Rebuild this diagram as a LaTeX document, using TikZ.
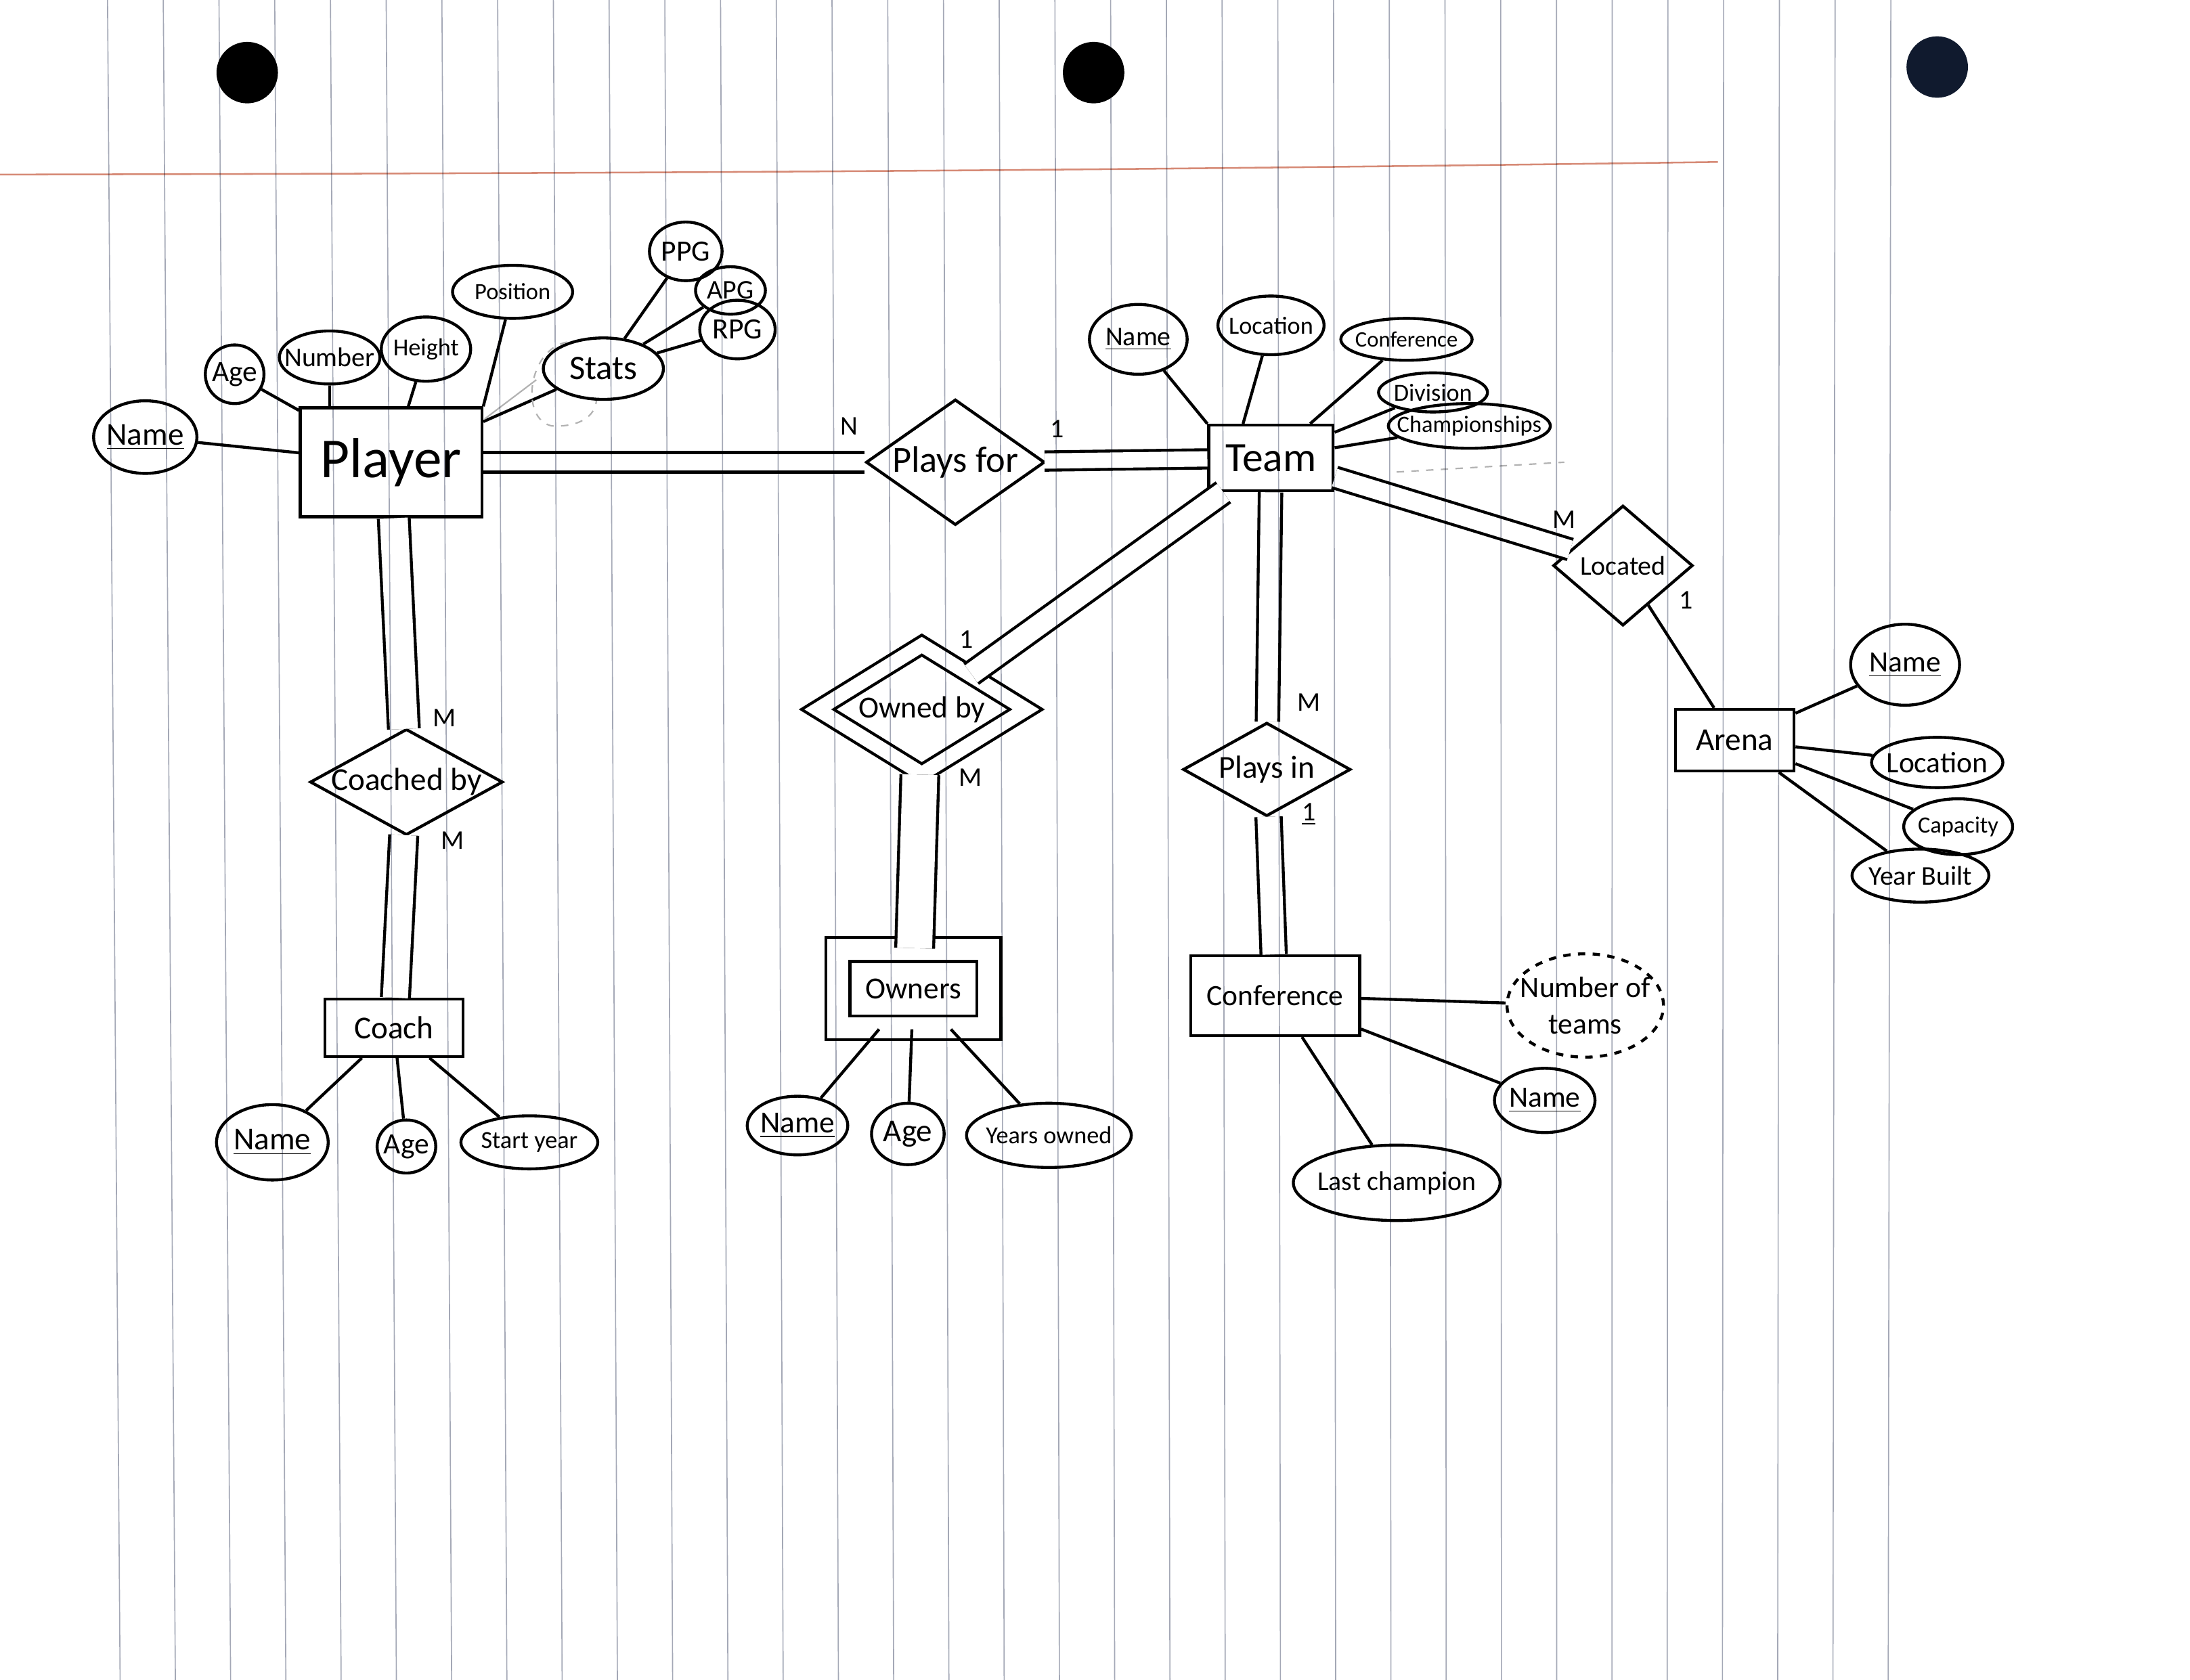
\documentclass[tikz,border=0pt]{standalone}
\usepackage{fontspec}
\setmainfont{Carlito}
\usepackage{xcolor}
\usetikzlibrary{shapes.geometric}

\definecolor{rulecol}{RGB}{164,168,182}
\definecolor{margincol}{RGB}{214,138,118}
\definecolor{holenavy}{RGB}{16,26,46}

\begin{document}
\begin{tikzpicture}[x=0.2mm, y=-0.2mm,
    ink/.style={line width=1.2pt, black},
    ent/.style={ink, draw, rectangle, inner sep=0pt},
    rel/.style={ink, draw, diamond, inner xsep=-40mm, inner ysep=-1mm},
    attr/.style={ink, draw, ellipse, inner xsep=-40mm, inner ysep=-1mm},
    dbl/.style={ink, double, double distance=#1},
    sz/.style 2 args={minimum width=#1mm, minimum height=#2mm},
    fs/.style={font=\fontsize{#1}{#1}\selectfont},
    card/.style={font=\fontsize{11}{13}\selectfont},
    faint/.style={black!30, line width=0.6pt, dashed}]

    \useasboundingbox (0,0) rectangle (1568,1203);
    \fill[white] (0,0) rectangle (1568,1203);

    \fill[black] (177,52) circle (22);
    \fill[black] (783,52) circle (22);
    \fill[holenavy] (1387,48) circle (22);

    % entities
    \node[ent, sz={26}{15.6}, fs=23] (pl) at (280,331) {Player};
    \node[ent, sz={17.8}{9.4}, fs=17] (tm) at (910,328) {Team};
    \node[ent, sz={17}{8.8}, fs=13] (ar) at (1242,530) {Arena};
    \node[ent, sz={24.2}{11.4}, fs=12] (cf) at (913,713) {Conference};
    \node[ent, sz={19.8}{8.2}, fs=13] (co) at (282,736) {Coach};
    \node[ent, double, double distance=3mm, sz={21.6}{11.2}, fs=12.5] (ow) at (654,708) {Owners};

    % relationships
    \node[rel, sz={25.6}{18}, fs=15] (pf) at (684,331) {Plays for};
    \node[rel, sz={20}{17.2}, fs=11] (lc) at (1162,405) {Located};
    \node[rel, double, double distance=2mm, sz={30}{18.6}, fs=12.5] (ob) at (660,508) {Owned by};
    \node[rel, sz={24}{13.4}, fs=13] (pi) at (907,551) {Plays in};
    \node[rel, sz={27.6}{15.2}, fs=13] (cb) at (291,560) {Coached by};

    % player attributes
    \node[attr, sz={14.8}{10.4}, fs=13] (plName) at (104,313) {\underline{Name}};
    \node[attr, sz={8.4}{8.4}, fs=12] (plAge) at (168,268) {Age};
    \node[attr, sz={14.4}{7.6}, fs=11] (plNum) at (236,256) {Number};
    \node[attr, sz={12.8}{9.2}, fs=10] (plHt) at (305,250) {Height};
    \node[attr, sz={17.2}{7.6}, fs=9.5] (plPos) at (367,209) {Position};
    \node[attr, sz={17.2}{8.8}, fs=14] (st) at (432,264) {Stats};
    \node[attr, sz={10.4}{8.4}, fs=12] (ppg) at (491,180) {PPG};
    \node[attr, sz={10}{6.8}, fs=11] (apg) at (523,208) {APG};
    \node[attr, sz={10.8}{8.4}, fs=12] (rpg) at (528,236) {RPG};

    % team attributes
    \node[attr, sz={14}{10}, fs=11] (tmName) at (815,243) {\underline{Name}};
    \node[attr, sz={15.2}{8.4}, fs=10] (tmLoc) at (910,233) {Location};
    \node[attr, sz={18.8}{6}, fs=9] (tmConf) at (1007,243) {Conference};
    \node[attr, sz={15.6}{5.6}, fs=10] (tmDiv) at (1026,281) {Division};
    \node[attr, sz={23.2}{6.4}, fs=9.5] (tmChamp) at (1052,305) {Championships};

    % arena attributes
    \node[attr, sz={15.6}{11.6}, fs=12] (arName) at (1364,476) {\underline{Name}};
    \node[attr, sz={18.8}{7.2}, fs=12] (arLoc) at (1387,546) {Location};
    \node[attr, sz={15.6}{8}, fs=9.5] (arCap) at (1402,592) {Capacity};
    \node[attr, sz={19.6}{7.6}, fs=11] (arYear) at (1375,627) {Year Built};

    % conference attributes
    \node[attr, dashed, sz={22.4}{14.8}, fs=12, align=center] (cfNum) at (1135,720) {Number of\\[3pt]teams};
    \node[attr, sz={14.4}{9.2}, fs=12] (cfName) at (1106,788) {\underline{Name}};
    \node[attr, sz={29.6}{10.8}, fs=11] (cfLast) at (1000,847) {Last champion};

    % coach attributes
    \node[attr, sz={16}{10.8}, fs=13] (coName) at (195,818) {\underline{Name}};
    \node[attr, sz={8.4}{7.6}, fs=12] (coAge) at (291,821) {Age};
    \node[attr, sz={19.6}{7.6}, fs=10] (coStart) at (379,818) {Start year};

    % owner attributes
    \node[attr, sz={14.4}{8.4}, fs=12.5] (owName) at (571,806) {\underline{Name}};
    \node[attr, sz={10.4}{8.8}, fs=13] (owAge) at (650,812) {Age};
    \node[attr, sz={23.6}{9.2}, fs=10] (owYears) at (751,813) {Years owned};

    % attribute lines
    \draw[ink] (plName) -- (pl);
    \draw[ink] (plAge) -- (pl);
    \draw[ink] (plNum) -- (pl.north -| plNum);
    \draw[ink] (plHt) -- (pl);
    \draw[ink] (plPos) -- (pl.north east);
    \draw[ink] (st) -- (pl);
    \draw[ink] (st) -- (ppg);
    \draw[ink] (st) -- (apg);
    \draw[ink] (st) -- (rpg);
    \draw[ink] (tmName) -- (tm.north west);
    \draw[ink] (tmLoc) -- ([xshift=-4mm]tm.north);
    \draw[ink] (tmConf) -- (tm);
    \draw[ink] (tmDiv) -- (tm);
    \draw[ink] (tmChamp) -- (tm);
    \draw[ink] (arName) -- (ar);
    \draw[ink] (arLoc) -- (ar);
    \draw[ink] (arCap) -- (ar);
    \draw[ink] (arYear) -- (ar);
    \draw[ink] (cfNum) -- (cf);
    \draw[ink] (cfName) -- (cf);
    \draw[ink] (cfLast) -- (cf);
    \draw[ink] (coName) -- (co);
    \draw[ink] (coAge) -- (co);
    \draw[ink] (coStart) -- (co);
    \draw[ink] (owName) -- (ow);
    \draw[ink] (owAge) -- (ow);
    \draw[ink] (owYears) -- (ow);

    % relationship lines
    \draw[dbl=2.4mm] (pl) -- (pf);
    \draw[dbl=2.2mm] (pf) -- (tm);
    \draw[dbl=2.6mm] (tm) -- (lc);
    \draw[ink] (lc) -- (ar);
    \draw[dbl=3mm] (tm) -- (ob);
    \draw[dbl=5mm] (ob) -- (ow);
    \draw[dbl=2.8mm] (tm) -- (pi);
    \draw[dbl=3.2mm] (pi) -- (cf);
    \draw[dbl=4mm] (pl) -- (cb);
    \draw[dbl=3.6mm] (cb) -- (co);

    % cardinalities
    \node[card] (cPfN) at (608,305) {N};
    \node[card] (cPf1) at (757,307) {1};
    \node[card] (cLcM) at (1120,372) {M};
    \node[card] (cLc1) at (1207,430) {1};
    \node[card] (cOb1) at (692,458) {1};
    \node[card] (cObM) at (695,557) {M};
    \node[card] (cPiM) at (937,503) {M};
    \node[card] (cPi1) at (937,583) {\underline{1}};
    \node[card] (cCbM) at (318,514) {M};
    \node[card] (cCbM2) at (324,602) {M};

    % half rubbed out strokes
    \draw[faint] (406,245) .. controls (378,250) and (372,300) .. (395,305) .. controls (415,306) and (426,298) .. (427,287);
    \draw[faint, solid] (347,300) -- (384,272);
    \draw[faint] (1000,338) -- (1120,331);

    % paper
    \begin{scope}[blend mode=multiply]
        \draw[margincol, line width=0.7pt] (0,125) .. controls (500,124) and (800,122) .. (1230,116);
        \foreach \i in {0,...,32}
            \draw[rulecol, line width=0.45pt] ({77+39.9*\i},0) -- ({86+39.56*\i},1203);
    \end{scope}
\end{tikzpicture}
\end{document}
